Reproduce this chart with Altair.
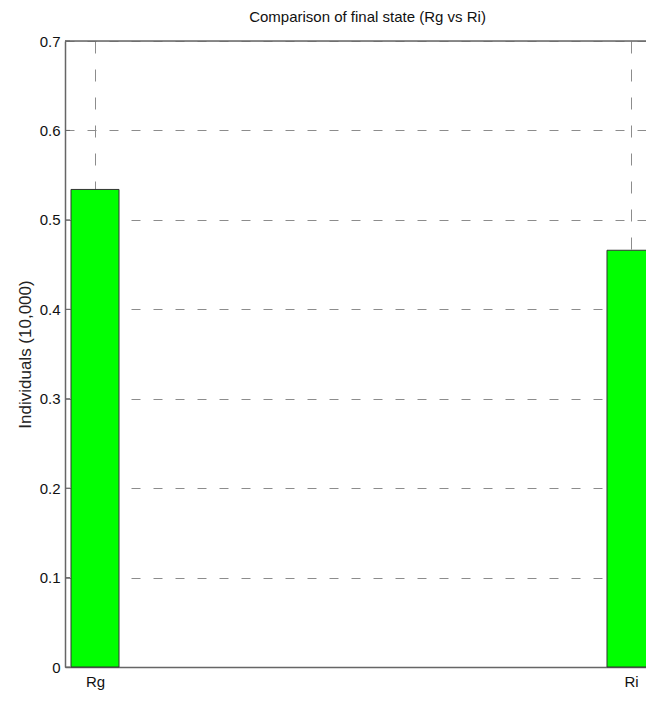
import altair as alt
import pandas as pd

categories = ["Rg", "Ri"]
positions = [1, 2]
values = [0.534, 0.466]
y_ticks = [0, 0.1, 0.2, 0.3, 0.4, 0.5, 0.6, 0.7]

bars_df = pd.DataFrame({"pos": positions, "cat": categories, "val": values})
ticks_df = pd.DataFrame({"t": y_ticks})

FONT = "Liberation Sans"
W, H = 581, 626

x_scale = alt.Scale(domain=[0.944, 2.0280], nice=False, zero=False, padding=0)
y_scale = alt.Scale(domain=[0, 0.7], nice=False, padding=0)

label_expr = "['" + "','".join(categories) + "'][datum.value - 1]"

bars = alt.Chart(bars_df).mark_bar(
    size=48, color="#00ff00", stroke="#333333", strokeWidth=1
).encode(
    x=alt.X("pos:Q", scale=x_scale,
            axis=alt.Axis(values=positions, labelExpr=label_expr, title=None,
                          grid=True, gridDash=[12, 16], gridColor="#8c8c8c",
                          gridOpacity=1, gridWidth=1,
                          domainColor="#666666", domainWidth=1.5,
                          ticks=False, tickSize=0, labelPadding=7,
                          labelFont=FONT, labelFontSize=15, labelColor="#111111")),
    y=alt.Y("val:Q", scale=y_scale,
            axis=alt.Axis(values=y_ticks, format=".1~f", title="Individuals (10,000)",
                          grid=True, gridDash=[9, 13], gridColor="#8c8c8c",
                          gridOpacity=1, gridWidth=1,
                          domainColor="#666666", domainWidth=1.5,
                          ticks=False, tickSize=0, labelPadding=5,
                          labelFont=FONT, labelFontSize=15, labelColor="#111111",
                          titleFont=FONT, titleFontSize=17, titleFontWeight="normal",
                          titleColor="#222222", titleAngle=-90, titleX=-35, titleY=H / 2,
                          titleAlign="center", titleBaseline="alphabetic")),
)

top_line = alt.Chart(pd.DataFrame({"t": [y_ticks[-1]]})).mark_rule(
    color="#666666", strokeWidth=1.5
).encode(y=alt.Y("t:Q", scale=y_scale))

inward = alt.Chart(ticks_df).mark_rule(color="#666666", strokeWidth=1).encode(
    y=alt.Y("t:Q", scale=y_scale), x=alt.value(0), x2=alt.value(5)
)

chart = alt.layer(bars, top_line, inward).properties(
    width=W, height=H,
    title=alt.TitleParams("Comparison of final state (Rg vs Ri)", font=FONT, fontSize=15,
                          fontWeight="normal", color="#111111", anchor="middle",
                          dx=12, offset=9),
    autosize=alt.AutoSizeParams(type="none"),
    padding={"left": 57, "top": 33, "right": 0, "bottom": 27},
).configure_view(stroke=None).configure(background="white")

chart.save("out.html", embed_options={"renderer": "svg", "actions": False})
